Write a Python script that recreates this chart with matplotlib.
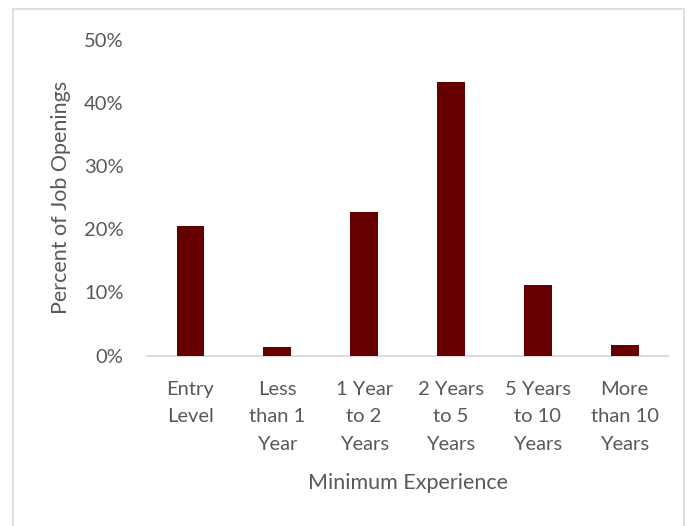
import matplotlib.pyplot as plt
from matplotlib.patches import Rectangle
from matplotlib.ticker import PercentFormatter

# experience categories and share of job openings
categories = ["Entry\nLevel", "Less\nthan 1\nYear", "1 Year\nto 2\nYears",
              "2 Years\nto 5\nYears", "5 Years\nto 10\nYears", "More\nthan 10\nYears"]
shares = [0.205, 0.0135, 0.227, 0.434, 0.112, 0.016]
yticks = [0, 0.1, 0.2, 0.3, 0.4, 0.5]

plt.rcParams['font.family'] = ['Lato', 'DejaVu Sans']
txt = '#595959'

fig = plt.figure(figsize=(6.97, 5.26), dpi=100)
ax = fig.add_axes([0.211, 0.324, 0.7475, 0.600])

x = range(len(categories))
ax.bar(x, shares, width=0.32, color='#660000', zorder=3)

ax.set_xlim(-0.5, len(categories) - 0.5)
ax.set_ylim(0, 0.5)
ax.set_yticks(yticks)
ax.yaxis.set_major_formatter(PercentFormatter(1.0, decimals=0))
ax.set_xticks(list(x))
ax.set_xticklabels(categories, linespacing=1.75)

for s in ['top', 'right', 'left']:
    ax.spines[s].set_visible(False)
ax.spines['bottom'].set_color('#d9d9d9')
ax.spines['bottom'].set_linewidth(1.3)
ax.tick_params(axis='both', length=0, labelsize=14.5, colors=txt)
ax.tick_params(axis='y', pad=17)
ax.tick_params(axis='x', pad=18)

ax.set_xlabel('Minimum Experience', fontsize=15.5, color=txt, labelpad=15)
ax.set_ylabel('Percent of Job Openings', fontsize=15.5, color=txt, labelpad=9)

# light frame around the chart area
fig.patches.append(Rectangle((12.5 / 697, -0.05), 671 / 697, 1.05 - 9.5 / 526,
                             transform=fig.transFigure, fill=False,
                             edgecolor='#d9d9d9', linewidth=1.2))

fig.savefig('out.png', dpi=100)
